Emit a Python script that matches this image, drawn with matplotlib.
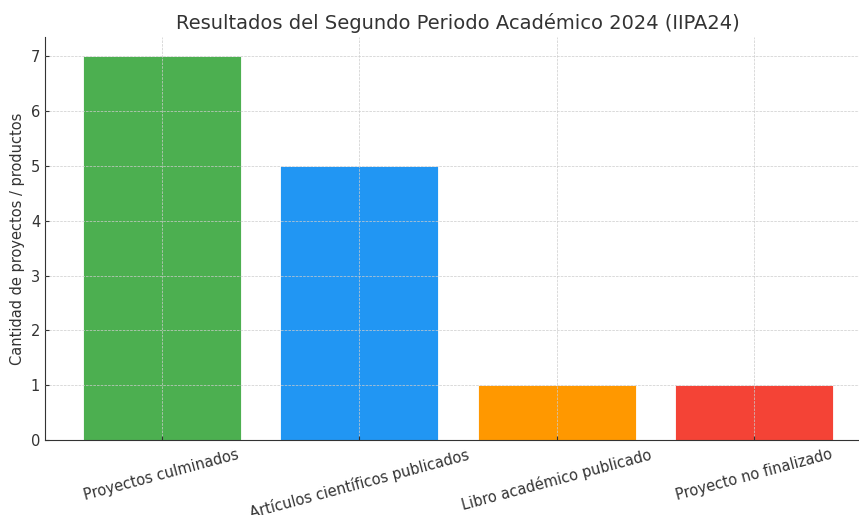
import matplotlib
matplotlib.use("Agg")
import matplotlib.pyplot as plt

categorias = ["Proyectos culminados", "Artículos científicos publicados",
              "Libro académico publicado", "Proyecto no finalizado"]
cantidades = [7, 5, 1, 1]
colores = ["#4CAF50", "#2196F3", "#FF9800", "#F44336"]

plt.rcParams['text.color'] = '#333333'
plt.rcParams['axes.labelcolor'] = '#333333'
plt.rcParams['xtick.color'] = '#333333'
plt.rcParams['ytick.color'] = '#333333'

fig = plt.figure(figsize=(8.59, 5.15), dpi=100)
ax = fig.add_axes([45/859, 75/515, 826/859, 403/515])

ax.bar(categorias, cantidades, color=colores, width=0.8, edgecolor='white', linewidth=0.6)
ax.set_xlim(-0.59, 3.59)
ax.set_ylim(0, 7.35)

ax.set_title("Resultados del Segundo Periodo Académico 2024 (IIPA24)", fontsize=14, pad=6)
ax.set_ylabel("Cantidad de proyectos / productos", fontsize=10.5)
ax.tick_params(axis='x', labelsize=10.5, rotation=15, length=3, direction='in', pad=5)
ax.tick_params(axis='y', labelsize=10.5, length=3, direction='in')

ax.grid(True, linestyle='--', linewidth=0.5, color='#cccccc')
ax.set_axisbelow(False)
for s in ['top', 'right']:
    ax.spines[s].set_visible(False)
for s in ['left', 'bottom']:
    ax.spines[s].set_color('#333333')

fig.savefig("out.png", dpi=100)
